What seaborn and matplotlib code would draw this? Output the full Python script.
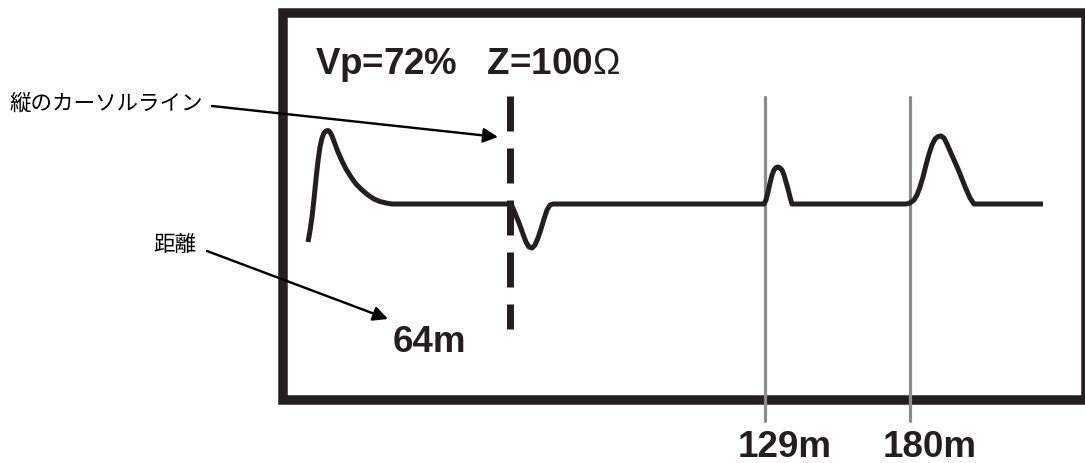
import matplotlib
matplotlib.use("Agg")
import matplotlib.pyplot as plt
from matplotlib.patches import Rectangle
import seaborn as sns
import pandas as pd

# ---- data (screen units of the TDR display) ----
wave_x = [308, 310, 312, 314, 316, 318, 320, 322, 324, 326, 328, 330, 332, 335,
          338, 342, 346, 351, 356, 362, 368, 374, 380, 386, 392,
          509, 512, 515, 519, 523, 526, 529, 532, 535, 538, 541, 544, 547, 550, 553,
          764, 766, 768, 770, 772, 774, 776, 778, 780, 782, 784, 786, 788, 790, 792,
          906, 910, 914, 917, 920, 923, 926, 929, 932, 935, 938, 941, 944, 947,
          950, 954, 958, 962, 966, 970, 974,
          1043]
wave_y = [243, 232, 218, 200, 180, 162, 148, 139, 134, 132, 131.5, 133, 137, 145,
          153, 162, 170, 178, 185, 191, 196, 200, 202.5, 204, 205,
          205, 207, 214, 224, 235, 243, 248, 249, 246, 239, 230, 220, 211, 206, 205,
          205, 201, 193, 184, 176, 171, 168.5, 168, 169, 171, 176, 183, 190, 198, 205,
          205, 204, 201, 196, 188, 178, 166, 155, 146, 140, 137.5, 137, 139, 145,
          152, 161, 170, 180, 190, 199, 205,
          205]

cursor_x = 510
cursor_span = (97, 330)
marker_x = [765, 910]
marker_labels = ["129m", "180m"]
marker_span = (98, 422)

header_text = r"Vp=72%   Z=100$\mathrm{\Omega}$"
cursor_label = "64m"
callouts = ["縦のカーソルライン", "距離"]
callout_text_xy = [(10, 104), (153, 245)]
callout_start = [(212, 107), (207, 252)]
callout_tip = [(498, 138), (388, 320)]

box = (282.5, 13.5, 1086, 401)

W, H = 1085, 464
INK = "#231f20"
GRAY = "#8a8c8e"

sns.set_theme(style="white")
plt.rcParams["font.family"] = ["Liberation Sans", "DejaVu Sans"]
plt.rcParams["mathtext.fontset"] = "custom"
plt.rcParams["mathtext.rm"] = "Liberation Sans"

fig = plt.figure(figsize=(W / 100, H / 100), dpi=100)
ax = fig.add_axes([0, 0, 1, 1])
ax.set_xlim(0, W)
ax.set_ylim(H, 0)
ax.axis("off")

px = 72 / 100  # points per pixel

# frame
ax.add_patch(Rectangle((box[0], box[1]), box[2] - box[0], box[3] - box[1],
                       fill=False, edgecolor=INK, lw=9.5 * px, joinstyle="miter"))

# gray marker lines
for mx in marker_x:
    sns.lineplot(x=[mx, mx], y=list(marker_span), ax=ax, color=GRAY,
                 lw=3.2 * px, sort=False, estimator=None)

# dashed cursor line
ax.plot([cursor_x, cursor_x], list(cursor_span), color=INK, lw=7 * px,
        linestyle=(0, (35 / 7, 17 / 7)), solid_capstyle="butt",
        dash_capstyle="butt")

# waveform
df = pd.DataFrame({"x": wave_x, "y": wave_y})
sns.lineplot(data=df, x="x", y="y", ax=ax, color=INK, lw=5 * px,
             sort=False, estimator=None, solid_capstyle="butt",
             solid_joinstyle="round")

# texts
ax.text(315, 74, header_text, fontsize=26.5, fontweight="bold", color=INK,
        ha="left", va="baseline")
ax.text(393, 352, cursor_label, fontsize=26.5, fontweight="bold", color=INK,
        ha="left", va="baseline")
for mx, lab in zip(marker_x, marker_labels):
    ax.text(mx + 20, 457, lab, fontsize=26.5, fontweight="bold", color=INK,
            ha="center", va="baseline")

for lab, (tx, ty), s, t in zip(callouts, callout_text_xy, callout_start, callout_tip):
    ax.text(tx, ty, lab, fontsize=15.5, color="black", ha="left", va="center",
            family=["Noto Sans CJK JP", "DejaVu Sans"])
    ax.annotate("", xy=t, xytext=s,
                arrowprops=dict(arrowstyle="-|>", color="black", lw=2.4 * px,
                                mutation_scale=22, shrinkA=0, shrinkB=0))

ax.set_xlabel("")
ax.set_ylabel("")
fig.savefig("out.png", dpi=100)
